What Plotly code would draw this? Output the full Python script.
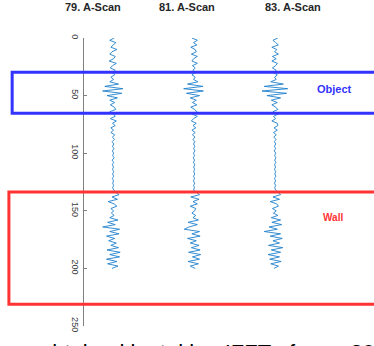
import plotly.graph_objects as go

# Depth samples (vertical axis) and A-scan indices
depth = list(range(0, 201, 2))
scan_ids = [79, 81, 83]
titles = ["79. A-Scan", "81. A-Scan", "83. A-Scan"]
tick_vals = [0, 50, 100, 150, 200, 250]

# Normalised A-scan amplitudes, one value per depth sample
amp_79 = [0.1, -0.3, 0.25, 0.05, -0.2, 0.35, -0.1, -0.3, 0.2, 0.05, -0.35, 0.3, -0.05, -0.25, 0.2,
          -0.05, 0.15, -0.2, 0.05,
          -0.3, 0.5, -0.75, 0.9, -0.95, 0.8, -0.55, 0.4, -0.3, 0.15,
          -0.25, 0.1, 0.25, -0.3, 0.05, 0.2, -0.25, 0.3, -0.05, 0.2, -0.2, 0.05, -0.2, 0.15, -0.05, 0.12, -0.08,
          0.06, -0.05, 0.08, -0.06, 0.05, -0.04, 0.1, -0.08, 0.05, -0.06, 0.04, -0.05, 0.06, -0.04, 0.05, -0.06,
          0.04, -0.03, 0.05, -0.04, 0.06,
          0.2, 0.55, -0.1, 0.4, -0.45, 0.1, 0.35, -0.2, 0.05, -0.15, 0.1, -0.3, 0.45, -0.5, 0.2, -0.95, 0.6,
          -0.3, 0.55, -0.6, 0.15, -0.4, 0.3, -0.2, 0.5, -0.55, 0.65, -0.3, 0.6, -0.6, 0.35, -0.5, 0.45, -0.1]
amp_81 = [-0.2, 0.3, -0.05, 0.25, -0.3, 0.1, 0.2, -0.25, 0.3, -0.05, -0.2, 0.3, -0.15, 0.1, -0.1,
          0.12, -0.2, 0.1, -0.05,
          0.35, -0.6, 0.8, -0.95, 0.85, -0.7, 0.5, -0.35, 0.2, -0.15,
          0.25, -0.3, 0.05, 0.25, -0.2, 0.3, -0.05, -0.25, 0.2, -0.1, 0.15, -0.2, 0.1, -0.15, 0.08, -0.1, 0.06,
          -0.05, 0.06, -0.04, 0.08, -0.06, 0.05, -0.07, 0.04, -0.05, 0.06, -0.04, 0.05, -0.03, 0.06, -0.05, 0.04,
          -0.06, 0.05, -0.04, 0.03, -0.05,
          0.25, 0.5, -0.3, 0.45, -0.1, 0.3, -0.35, 0.15, 0.05, -0.2, 0.15, -0.1, 0.4, -0.55, 0.3, -0.45, -0.9,
          0.5, -0.2, 0.55, -0.6, 0.2, -0.35, 0.45, -0.25, 0.55, -0.5, 0.6, -0.15, 0.5, -0.55, 0.4, -0.35, 0.1]
amp_83 = [0.25, -0.2, 0.05, 0.3, -0.3, 0.15, -0.05, 0.3, -0.25, 0.1, -0.3, 0.2, 0.05, -0.25, 0.1,
          -0.15, 0.2, -0.05, 0.1,
          -0.4, 0.75, -1.0, 1.15, -1.2, 1.05, -0.75, 0.5, -0.35, 0.2,
          -0.3, 0.05, 0.25, -0.2, 0.3, -0.15, 0.05, -0.3, 0.2, 0.25, -0.1, 0.2, -0.15, 0.1, -0.12, 0.08, -0.06,
          0.05, -0.06, 0.04, -0.08, 0.06, -0.05, 0.07, -0.04, 0.06, -0.05, 0.04, -0.06, 0.05, -0.03, 0.06, -0.05,
          0.04, -0.06, 0.05, -0.04, 0.05,
          0.3, 0.5, -0.2, 0.4, -0.45, 0.15, 0.3, -0.25, 0.1, -0.15, 0.25, -0.35, 0.5, -0.3, 0.6, -0.55, 0.2,
          -1.0, 0.5, -0.45, 0.65, -0.2, 0.4, -0.6, 0.7, -0.35, 0.5, -0.65, 0.4, -0.5, 0.55, -0.4, 0.3, -0.1]
amps = [amp_79, amp_81, amp_83]

# Highlighted depth regions
regions = [("Object", 29.8, 65.4, "#3333ff"), ("Wall", 133.7, 231.2, "#ff3333")]

AMP_SCALE = 0.27
W, H = 374, 346
XMIN, XMAX = 76.21, 85.44
PLOT_H = 288

fig = go.Figure()
for sid, amp in zip(scan_ids, amps):
    fig.add_trace(go.Scatter(
        x=[sid + a * AMP_SCALE for a in amp], y=depth, mode="lines",
        line=dict(color="#1f80cc", width=0.9), showlegend=False, hoverinfo="skip"))

label_pos = {"Object": (84.46, 44.3, 11), "Wall": (84.43, 156.0, 10)}
for name, y0, y1, col in regions:
    x0 = 76.51 if name == "Object" else 76.43
    fig.add_shape(type="rect", xref="x", yref="y", x0=x0, x1=86.5, y0=y0, y1=y1,
                  line=dict(color=col, width=3), fillcolor="rgba(0,0,0,0)", layer="above")
    lx, ly, fs = label_pos[name]
    fig.add_annotation(x=lx, y=ly, xref="x", yref="y", text=f"<b>{name}</b>", showarrow=False,
                       font=dict(family="Liberation Sans, Arial", size=fs, color=col))

title_x = [93, 187, 293]
for t, px in zip(titles, title_x):
    fig.add_annotation(x=px / W, y=1 + (38 - 7) / PLOT_H, xref="paper", yref="paper",
                       xanchor="center", yanchor="middle",
                       text=f"<b>{t}</b>", showarrow=False,
                       font=dict(family="Liberation Sans, Arial", size=11, color="#262626"))

fig.add_annotation(x=38 / W, y=-(338 - 326) / PLOT_H, xref="paper", yref="paper",
                   xanchor="left", yanchor="top", showarrow=False,
                   text="obtained by taking IFFT of over 20",
                   font=dict(family="Liberation Sans, Arial", size=22, color="#000000"))

fig.update_layout(
    width=W, height=H, margin=dict(l=0, r=0, t=38, b=20),
    paper_bgcolor="white", plot_bgcolor="white",
    xaxis=dict(range=[XMIN, XMAX], visible=False, domain=[0, 1]),
    yaxis=dict(range=[250, 0], anchor="free", position=83 / W, showgrid=False, zeroline=False,
               showline=True, linecolor="#808080", linewidth=1,
               ticks="inside", ticklen=3, tickcolor="#808080", tickvals=tick_vals,
               tickangle=90, tickfont=dict(family="Liberation Sans, Arial", size=9, color="#404040")),
)
fig.write_html("out.html")
